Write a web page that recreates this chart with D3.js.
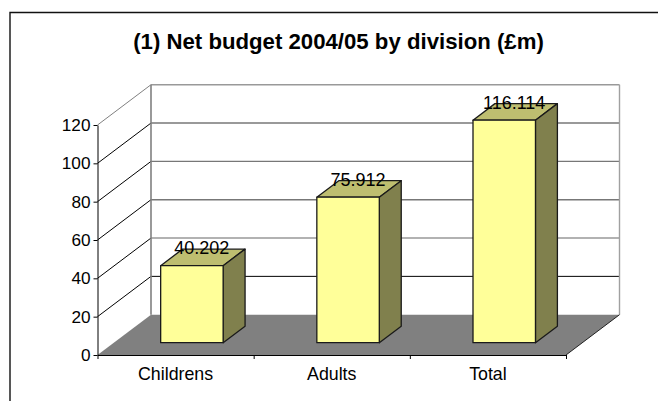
<!DOCTYPE html>
<html>
<head>
<meta charset="utf-8">
<script src="https://cdn.jsdelivr.net/npm/d3@7/dist/d3.min.js"></script>
<style>
  html, body { margin: 0; padding: 0; background: #fff; overflow: hidden; }
  svg { display: block; }
  text { font-family: "Liberation Sans", Arial, sans-serif; fill: #000; }
</style>
</head>
<body>
<svg id="chart" width="658" height="401"></svg>
<script>
const categories = ["Childrens", "Adults", "Total"];
const budgets = [40.202, 75.912, 116.114];
const budgetLabels = ["40.202", "75.912", "116.114"];
const yTicks = [0, 20, 40, 60, 80, 100, 120];
const chartTitle = "(1) Net budget 2004/05 by division (£m)";

const svg = d3.select("#chart");

// Oblique projection: front plane of the plot and the offset of its back plane
const front = { left: 97.5, right: 566, bottom: 355, top: 125 };
const depth = { dx: 53.5, dy: -40.3 };

const x = d3.scaleBand().domain(categories).range([front.left, front.right]);
const y = d3.scaleLinear().domain([0, 120]).range([front.bottom, front.top]);

// Fraction of the floor depth at which a bar starts and ends
const barDepthStart = 0.305, barDepthEnd = 0.715;
const barWidthShare = 0.4;

const pt = (px, value, d) => [px + depth.dx * d, y(value) + depth.dy * d];
const poly = pts => "M" + pts.map(p => p.join(",")).join("L") + "Z";

// Chart area outline (open on the right and bottom)
svg.append("path")
  .attr("d", "M10,401V12.5H658")
  .attr("fill", "none").attr("stroke", "#111").attr("stroke-width", 1.4);

// Title
svg.append("text")
  .attr("x", 338.5).attr("y", 49)
  .attr("text-anchor", "middle")
  .attr("font-size", 22.2).attr("font-weight", "bold")
  .text(chartTitle);

// Floor
svg.append("path")
  .attr("d", poly([pt(front.left, 0, 0), pt(front.right, 0, 0), pt(front.right, 0, 1), pt(front.left, 0, 1)]))
  .attr("fill", "#808080");

// Gridlines on the side and back walls
const grid = svg.append("g").attr("fill", "none");
yTicks.filter(t => t > 0).forEach(t => {
  const a = pt(front.left, t, 0), b = pt(front.left, t, 1), c = pt(front.right, t, 1);
  grid.append("path")
    .attr("d", "M" + a + "L" + b)
    .attr("stroke", t === 120 ? "#808080" : "#000").attr("stroke-width", 1);
  grid.append("path")
    .attr("d", "M" + b + "L" + c)
    .attr("stroke", t === 20 ? "#000" : t === 40 || t === 120 ? "#999" : "#777")
    .attr("stroke-width", t === 20 ? 1 : 1.4);
});

// Back wall edges
grid.append("path")
  .attr("d", "M" + pt(front.left, 0, 1) + "L" + pt(front.left, 120, 1))
  .attr("stroke", "#808080").attr("stroke-width", 1.6);
grid.append("path")
  .attr("d", "M" + pt(front.right, 0, 1) + "L" + pt(front.right, 120, 1))
  .attr("stroke", "#a0a0a0").attr("stroke-width", 1.4);

// Floor front-right edge
svg.append("path")
  .attr("d", "M" + pt(front.right, 0, 0) + "L" + pt(front.right, 0, 1))
  .attr("stroke", "#222").attr("stroke-width", 1);

// Bars: front, top and side faces
const bars = svg.append("g").selectAll("g").data(categories).join("g")
  .attr("stroke", "#1a1a1a").attr("stroke-width", 1.3).attr("stroke-linejoin", "round");

const barEdges = c => {
  const w = x.bandwidth() * barWidthShare;
  const x0 = x(c) + (x.bandwidth() - w) / 2;
  return [x0, x0 + w];
};

bars.append("path")
  .attr("fill", "#BEBE70")
  .attr("d", (c, i) => {
    const [l, r] = barEdges(c), v = budgets[i];
    return poly([pt(l, v, barDepthStart), pt(r, v, barDepthStart), pt(r, v, barDepthEnd), pt(l, v, barDepthEnd)]);
  });
bars.append("path")
  .attr("fill", "#80804D")
  .attr("d", (c, i) => {
    const [, r] = barEdges(c), v = budgets[i];
    return poly([pt(r, 0, barDepthStart), pt(r, v, barDepthStart), pt(r, v, barDepthEnd), pt(r, 0, barDepthEnd)]);
  });
bars.append("path")
  .attr("fill", "#FFFF99")
  .attr("d", (c, i) => {
    const [l, r] = barEdges(c), v = budgets[i];
    return poly([pt(l, 0, barDepthStart), pt(r, 0, barDepthStart), pt(r, v, barDepthStart), pt(l, v, barDepthStart)]);
  });

// Value labels sit on the back edge of each bar's top
svg.append("g").selectAll("text").data(categories).join("text")
  .attr("text-anchor", "middle")
  .attr("font-size", 18)
  .attr("x", (c, i) => { const [l, r] = barEdges(c); return pt((l + r) / 2, budgets[i], barDepthEnd)[0] - 12; })
  .attr("y", (c, i) => pt(0, budgets[i], barDepthEnd)[1] + 5)
  .text((c, i) => budgetLabels[i]);

// Value axis
const yAxis = svg.append("g")
  .attr("transform", `translate(${front.left},0)`)
  .call(d3.axisLeft(y).tickValues(yTicks).tickSize(4).tickPadding(3).tickSizeOuter(0));
yAxis.selectAll("text").attr("font-size", 17.2).attr("font-family", "Liberation Sans").attr("fill", "#000");
yAxis.selectAll("line").attr("stroke", "#000");
yAxis.select(".domain").attr("stroke", "#000");

// Category axis: ticks fall on band edges, labels at band centres
const edges = categories.map(c => x(c)).concat([front.right]);
const xEdge = d3.scaleIdentity().domain([front.left, front.right]);
const xAxis = svg.append("g")
  .attr("transform", `translate(0,${front.bottom})`)
  .call(d3.axisBottom(xEdge).tickValues(edges).tickSize(4).tickFormat("").tickSizeOuter(0));
xAxis.selectAll("line").attr("stroke", "#000");
xAxis.select(".domain").attr("stroke", "#000");

svg.append("g").selectAll("text").data(categories).join("text")
  .attr("text-anchor", "middle")
  .attr("font-size", 17.8)
  .attr("x", c => x(c) + x.bandwidth() / 2)
  .attr("y", 380)
  .text(c => c);
</script>
</body>
</html>
